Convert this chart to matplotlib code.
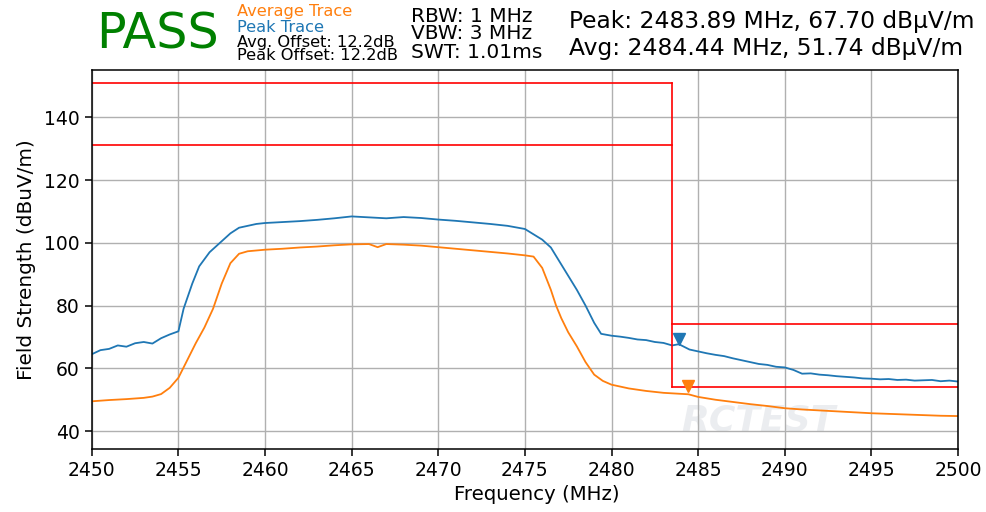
import matplotlib
matplotlib.use("Agg")
import matplotlib.pyplot as plt

# peak trace (blue)
peak_freq = [2450.0, 2450.5, 2451.0, 2451.5, 2452.0, 2452.5, 2453.0, 2453.5, 2454.0, 2454.5,
             2455.0, 2455.3, 2455.8, 2456.2, 2456.8, 2457.5, 2458.0, 2458.5, 2459.5,
             2460.0, 2461.0, 2462.0, 2463.0, 2464.0, 2465.0, 2466.0, 2467.0, 2468.0, 2469.0,
             2470.0, 2471.0, 2472.0, 2473.0, 2474.0, 2475.0, 2476.0, 2476.5, 2477.0,
             2477.5, 2478.0, 2478.5, 2479.0, 2479.4, 2480.0, 2480.5, 2481.0, 2481.5, 2482.0,
             2482.5, 2483.0, 2483.5, 2483.89, 2484.5, 2485.0, 2485.5, 2486.0, 2486.5, 2487.0,
             2487.5, 2488.0, 2488.5, 2489.0, 2489.5, 2490.0, 2490.5, 2491.0, 2491.5, 2492.0,
             2492.5, 2493.0, 2493.5, 2494.0, 2494.5, 2495.0, 2495.5, 2496.0, 2496.5, 2497.0,
             2497.5, 2498.0, 2498.5, 2499.0, 2499.5, 2500.0]
peak_level = [64.5, 65.8, 66.2, 67.3, 66.9, 68.0, 68.4, 67.9, 69.6, 70.8,
              71.8, 79.0, 87.0, 92.5, 97.0, 100.5, 103.0, 104.8, 106.0,
              106.3, 106.6, 106.9, 107.3, 107.8, 108.4, 108.1, 107.8, 108.2, 107.9,
              107.4, 107.0, 106.5, 106.0, 105.4, 104.4, 101.0, 98.5, 94.0,
              89.5, 85.0, 80.0, 74.5, 71.0, 70.4, 70.1, 69.7, 69.2, 69.0,
              68.4, 68.1, 67.3, 67.7, 66.0, 65.4, 64.8, 64.3, 63.9, 63.2,
              62.6, 62.0, 61.4, 61.1, 60.5, 60.3, 59.5, 58.3, 58.4, 58.0,
              57.8, 57.5, 57.3, 57.1, 56.8, 56.7, 56.5, 56.6, 56.3, 56.4,
              56.1, 56.2, 56.3, 55.9, 56.1, 55.8]

# average trace (orange)
avg_freq = [2450.0, 2451.0, 2452.0, 2453.0, 2453.5, 2454.0, 2454.5, 2455.0, 2455.5, 2456.0, 2456.5,
            2457.0, 2457.5, 2458.0, 2458.5, 2459.0, 2460.0, 2461.0, 2462.0, 2463.0, 2464.0,
            2465.0, 2466.0, 2466.5, 2467.0, 2468.0, 2469.0, 2470.0, 2471.0, 2472.0, 2473.0,
            2474.0, 2475.0, 2475.5, 2476.0, 2476.5, 2476.8, 2477.1, 2477.5, 2478.0, 2478.5,
            2479.0, 2479.5, 2480.0, 2481.0, 2482.0, 2483.0, 2484.44, 2485.0, 2486.0, 2487.0,
            2488.0, 2489.0, 2490.0, 2491.0, 2492.0, 2493.0, 2494.0, 2495.0, 2496.0, 2497.0,
            2498.0, 2499.0, 2500.0]
avg_level = [49.5, 49.9, 50.2, 50.6, 51.0, 51.8, 53.8, 57.0, 62.5, 68.0, 73.0,
             79.0, 87.0, 93.5, 96.5, 97.3, 97.8, 98.1, 98.5, 98.8, 99.2,
             99.5, 99.6, 98.6, 99.6, 99.4, 99.1, 98.6, 98.1, 97.6, 97.1,
             96.6, 96.0, 95.6, 92.0, 85.0, 80.0, 76.0, 71.5, 67.0, 62.0,
             58.0, 56.0, 54.8, 53.6, 52.8, 52.2, 51.74, 50.9, 50.0, 49.3,
             48.6, 48.0, 47.3, 46.9, 46.6, 46.3, 46.0, 45.7, 45.5, 45.3,
             45.1, 44.9, 44.8]

# limit lines (freq, level)
limit_freq = [2450.0, 2483.5, 2483.5, 2500.0]
peak_limit = [151.0, 151.0, 74.0, 74.0]
avg_limit = [131.0, 131.0, 54.0, 54.0]
edge_freq = 2483.5
edge_levels = [151.0, 54.0]

peak_marker = (2483.89, 67.70)
avg_marker = (2484.44, 51.74)

blue = "#1f77b4"
orange = "#ff7f0e"

fig = plt.figure(figsize=(9.87, 5.12), dpi=100)
ax = fig.add_axes([0.093, 0.123, 0.8776, 0.740])

ax.plot(peak_freq, peak_level, color=blue, lw=1.3)
ax.plot(avg_freq, avg_level, color=orange, lw=1.3)

ax.plot(limit_freq[:2], peak_limit[:2], color="red", lw=1.2)
ax.plot(limit_freq[2:], peak_limit[2:], color="red", lw=1.2)
ax.plot(limit_freq[:2], avg_limit[:2], color="red", lw=1.2)
ax.plot(limit_freq[2:], avg_limit[2:], color="red", lw=1.2)
ax.plot([edge_freq, edge_freq], edge_levels, color="red", lw=1.2)

ax.plot(peak_marker[0], peak_marker[1] + 1.5, marker="v", color=blue, ms=9)
ax.plot(avg_marker[0], avg_marker[1] + 2.5, marker="v", color=orange, ms=9)

# faint watermark
ax.text(2488.5, 43.5, "RCTEST", fontsize=26, fontstyle="italic", fontweight="bold",
        color="#c8ccd4", alpha=0.35, ha="center", va="center", zorder=0)

ax.set_xlim(2450, 2500)
ax.set_ylim(34.3, 155)
ax.set_xticks(range(2450, 2501, 5))
ax.set_yticks(range(40, 141, 20))
ax.tick_params(labelsize=13.5, length=5, width=1.1)
for s in ax.spines.values():
    s.set_linewidth(1.1)
ax.grid(True, color="#b0b0b0", lw=1.0)
ax.set_axisbelow(True)
ax.set_xlabel("Frequency (MHz)", fontsize=14.2, labelpad=2)
ax.xaxis.set_label_coords(0.514, -0.095)
ax.set_ylabel("Field Strength (dBuV/m)", fontsize=14.4, labelpad=6)

fig.text(0.097, 0.906, "PASS", color="green", fontsize=35.5, va="baseline")
fig.text(0.240, 0.968, "Average Trace", color=orange, fontsize=11.7, va="baseline")
fig.text(0.240, 0.938, "Peak Trace", color=blue, fontsize=11.7, va="baseline")
fig.text(0.240, 0.909, "Avg. Offset: 12.2dB", color="black", fontsize=11.7, va="baseline")
fig.text(0.240, 0.883, "Peak Offset: 12.2dB", color="black", fontsize=11.7, va="baseline")
fig.text(0.416, 0.958, "RBW: 1 MHz", fontsize=14.5, va="baseline")
fig.text(0.416, 0.923, "VBW: 3 MHz", fontsize=14.5, va="baseline")
fig.text(0.416, 0.886, "SWT: 1.01ms", fontsize=14.5, va="baseline")
fig.text(0.577, 0.945, "Peak: 2483.89 MHz, 67.70 dBµV/m", fontsize=16.8, va="baseline")
fig.text(0.577, 0.892, "Avg: 2484.44 MHz, 51.74 dBµV/m", fontsize=16.8, va="baseline")

fig.savefig("out.png", dpi=100)
